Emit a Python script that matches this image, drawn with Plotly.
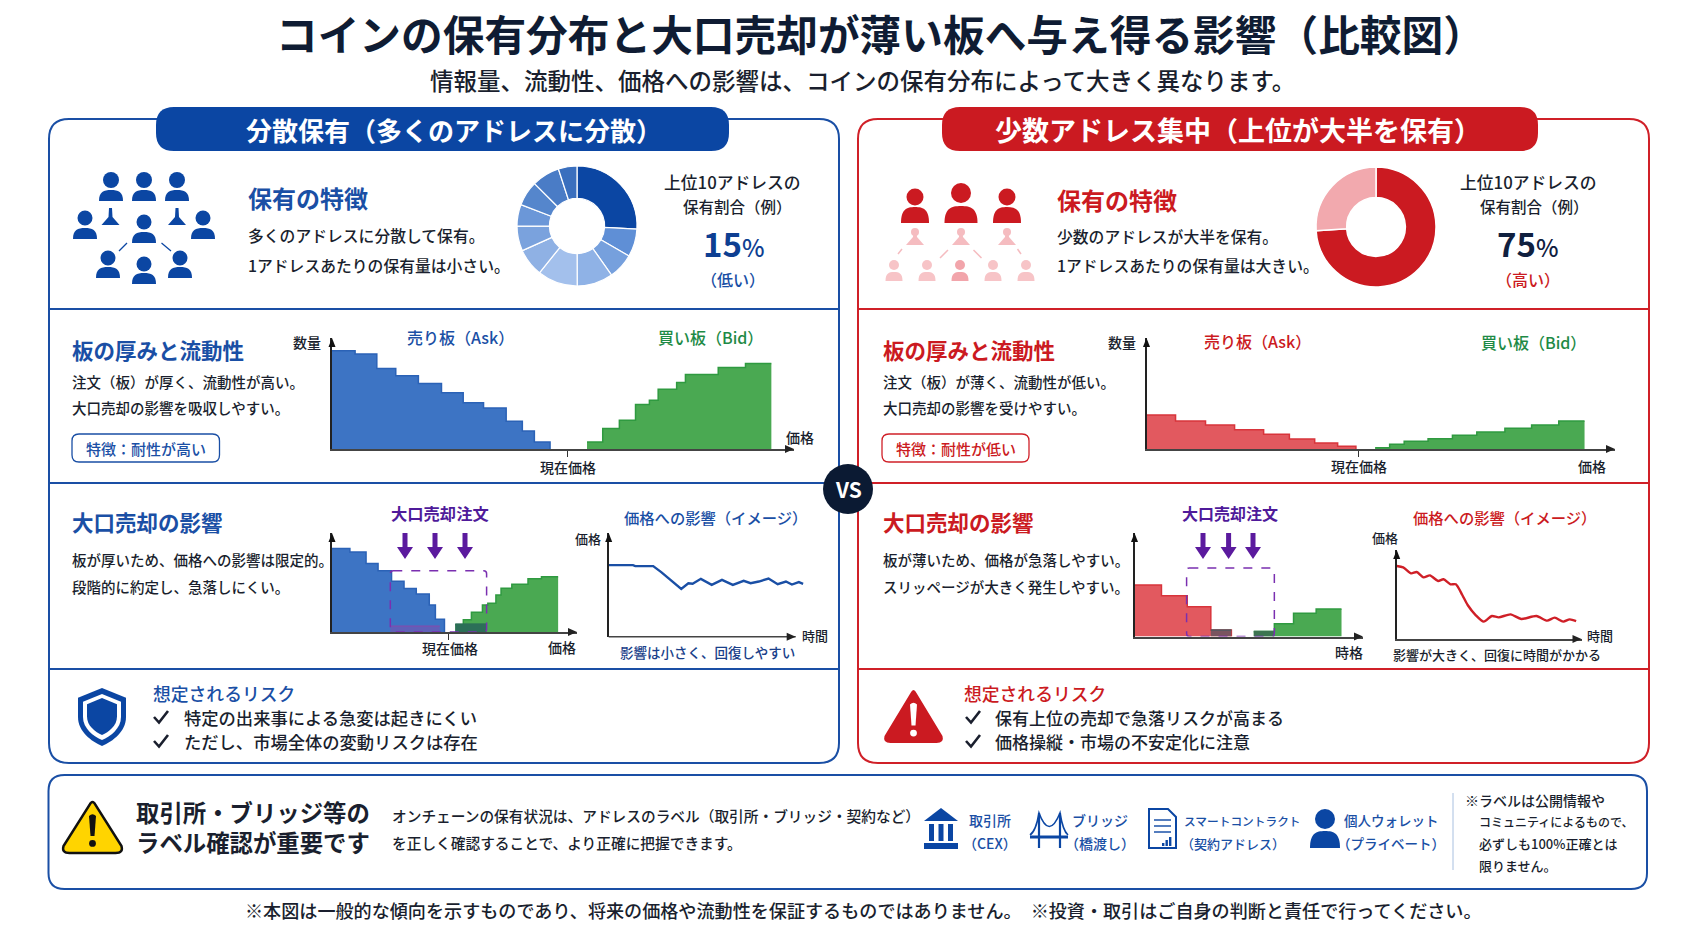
import plotly.graph_objects as go

W = 1692
H = 929
FONT = "Noto Sans CJK JP"
BLUE = "#0b46a3"
BLUE_TXT = "#1a4fa5"
RED = "#cb1a21"
GREEN_TXT = "#1e8a45"
PURPLE = "#4f1a9a"
DARK = "#1a1f2e"

# donuts
spread_shares = [25.8, 7.5, 6.9, 9.7, 10.8, 7.5, 6.7, 5.8, 6.7, 7.5, 5.0]
spread_colors = ["#0b46a3", "#5f8fd6", "#76a0dd", "#8fb2e6", "#a3c0ec", "#8fb1e4",
                 "#7aa2dd", "#6b97d8", "#5586cc", "#4a7cc6", "#3a6fbe"]
conc_shares = [74, 26]
conc_colors = ["#cb1a21", "#f2a9ae"]

# order book, left card
thick_ask_x = [0, 5, 9.7, 13.8, 18.7, 23.7, 28.4, 32.8, 37.7, 41.2, 43.8, 47.2]
thick_ask_y = [88.6, 85.5, 72.6, 66, 59, 50.6, 41.6, 37, 25, 16.3, 6.3, 0]
thick_bid_x = [55.2, 58.6, 62.2, 65.7, 68.7, 70.6, 74.6, 76.5, 83.6, 89.5, 95.1]
thick_bid_y = [6.3, 18.4, 25.9, 40, 43.9, 53.9, 59.9, 67.1, 73.5, 77.1, 77.1]

# order book, right card
thin_ask_x = [0, 6.2, 12.6, 18.8, 25, 30.5, 35.9, 40.8, 44.7]
thin_ask_y = [30.6, 25.2, 21.6, 17.4, 13.2, 9, 5.4, 2.4, 0]
thin_bid_x = [48.8, 51.9, 55, 60.1, 65.3, 70.5, 76.5, 82.2, 88, 93.5]
thin_bid_y = [1.2, 4.2, 6.9, 9.3, 12.3, 15.3, 18.6, 21.6, 25.2, 25.2]

# large sell, left card
sell_l_ask_x = [0, 7.3, 13.9, 18.8, 24.3, 29.4, 34.4, 39.7, 42.2, 45.9]
sell_l_ask_y = [84.3, 80.9, 69.2, 61.9, 51.2, 44, 38.3, 27.3, 13, 0]
sell_l_bid_x = [50.3, 53.6, 56.9, 61.4, 63.6, 66.9, 69, 73.4, 80, 85.5, 92.3]
sell_l_bid_y = [7.4, 12.4, 20, 27.3, 29, 37.5, 44.1, 48.2, 53.8, 55.9, 55.9]
sell_l_over_x = [50.3, 63.1]
sell_l_over_y = [8, 8]
sell_l_hatch_x = [23.8, 44]
sell_l_hatch_y = [6, 6]
sell_l_box = [23.8, 63.1, 61.9]

# large sell, right card
sell_r_ask_x = [0, 11.8, 23.1, 33.4, 42.4]
sell_r_ask_y = [49.7, 39.4, 28.8, 6.4, 0]
sell_r_bid_x = [52.2, 61.2, 69.6, 79.5, 90.6]
sell_r_bid_y = [4.8, 12.2, 22.4, 26.6, 26.6]
sell_r_over_x = [33.4, 42.4]
sell_r_over_y = [6.4, 6.4]
sell_r_over2_x = [52.2, 61.2]
sell_r_over2_y = [4.8, 4.8]
sell_r_box = [22.8, 61.2, 66.3]

# price impact lines
price_l_t = [0, 13, 14.2, 23.8, 28.1, 33.9, 38.8, 42.6, 44.9, 49.3, 55.1, 60.6, 66.4,
             72.2, 75.9, 80.3, 85.5, 90.4, 94.8, 98.0, 101.7, 104]
price_l_p = [69, 69, 68.1, 68.1, 62.3, 53.2, 46.1, 51.6, 51, 55.8, 50, 54.8, 50,
             53.9, 51.6, 53.2, 56.1, 50.6, 53.2, 50.3, 52.6, 51]
price_r_t = [0, 3.5, 7.8, 10.8, 14.5, 18, 22.4, 25.3, 29.1, 32, 35.5, 38.4, 42.7, 47.1,
             51.5, 55.2, 61.6, 67.4, 75.6, 81.4, 85.5, 90.1, 93.6, 97.1]
price_r_p = [82, 80.5, 73.8, 75.3, 69.3, 71.5, 65.2, 67.1, 61.5, 61.5, 49.4, 38.2, 26.9, 19.5,
             25.8, 24.3, 27.7, 22.5, 25.8, 20.6, 24, 19.5, 22.1, 20.2]

shapes = []
notes = []


def text(x, y, s, size=15, color=DARK, anchor="left", bold=False):
    notes.append(dict(x=x, y=y, xref="x", yref="y", text=s, showarrow=False, xanchor=anchor, yanchor="middle",
                      align=anchor if anchor != "right" else "right",
                      font=dict(family=FONT, size=size, color=color, weight=700 if bold else 500)))


def path(d, fill="rgba(0,0,0,0)", line=None, width=1, dash=None, xref="x", yref="y"):
    shapes.append(dict(type="path", path=d, xref=xref, yref=yref, fillcolor=fill,
                       line=dict(color=line if line else "rgba(0,0,0,0)", width=width if line else 0, dash=dash)))


def rrect(x0, y0, x1, y1, r, fill="rgba(0,0,0,0)", line=None, width=1, dash=None, xref="x", yref="y", ry=None):
    ry = r if ry is None else ry
    # y0 is the edge drawn first, works for either axis direction
    sy = 1 if y1 > y0 else -1
    d = (f"M {x0 + r} {y0} L {x1 - r} {y0} Q {x1} {y0} {x1} {y0 + sy * ry} L {x1} {y1 - sy * ry} "
         f"Q {x1} {y1} {x1 - r} {y1} L {x0 + r} {y1} Q {x0} {y1} {x0} {y1 - sy * ry} L {x0} {y0 + sy * ry} "
         f"Q {x0} {y0} {x0 + r} {y0} Z")
    path(d, fill, line, width, dash, xref, yref)


def hline(x0, x1, y, color, width=2):
    shapes.append(dict(type="line", x0=x0, x1=x1, y0=y, y1=y, xref="x", yref="y", line=dict(color=color, width=width)))


def seg(x0, y0, x1, y1, color, width=1.5):
    shapes.append(dict(type="line", x0=x0, x1=x1, y0=y0, y1=y1, xref="x", yref="y", line=dict(color=color, width=width)))


def bar(x0, x1, y0, y1, color):
    shapes.append(dict(type="rect", x0=x0, x1=x1, y0=y0, y1=y1, xref="x", yref="y", fillcolor=color, line=dict(width=0)))


def circle(cx, cy, r, color, ry=None):
    ry = r if ry is None else ry
    shapes.append(dict(type="circle", x0=cx - r, x1=cx + r, y0=cy - ry, y1=cy + ry, xref="x", yref="y",
                       fillcolor=color, line=dict(width=0)))


def person(cx, head_y, head_r, top, base, w, color):
    circle(cx, head_y, head_r, color)
    k = (base - top) * 0.15
    path(f"M {cx - w} {base} C {cx - w} {top + k} {cx - w * 0.6} {top} {cx} {top} "
         f"C {cx + w * 0.6} {top} {cx + w} {top + k} {cx + w} {base} Z", color)


def small_tri(cx, top, base, w, color):
    path(f"M {cx - 1.5} {top} L {cx + 1.5} {top} L {cx + 2} {base - 8} L {cx + w} {base} L {cx - w} {base} "
         f"L {cx - 2} {base - 8} Z", color)


def shield(cx, top, hw, h, color):
    path(f"M {cx} {top} L {cx + hw} {top + h * 0.17} L {cx + hw} {top + h * 0.5} "
         f"C {cx + hw} {top + h * 0.75} {cx + hw * 0.45} {top + h * 0.92} {cx} {top + h} "
         f"C {cx - hw * 0.45} {top + h * 0.92} {cx - hw} {top + h * 0.75} {cx - hw} {top + h * 0.5} "
         f"L {cx - hw} {top + h * 0.17} Z", color)


def warn(cx, top, bot, hw, fill, mark, line=None, width=0):
    path(f"M {cx - 3} {top + 5} Q {cx} {top - 1} {cx + 3} {top + 5} L {cx + hw - 1} {bot - 7} "
         f"Q {cx + hw + 1} {bot} {cx + hw - 7} {bot} L {cx - hw + 7} {bot} "
         f"Q {cx - hw - 1} {bot} {cx - hw + 1} {bot - 7} Z", fill, line, width)
    h = bot - top
    path(f"M {cx - 3.5} {top + h * 0.3} Q {cx} {top + h * 0.24} {cx + 3.5} {top + h * 0.3} "
         f"L {cx + 2} {top + h * 0.68} L {cx - 2} {top + h * 0.68} Z", mark)
    circle(cx, top + h * 0.82, 3.4, mark)


def check(x, y, color=DARK):
    path(f"M {x - 7} {y} L {x - 2} {y + 5.5} L {x + 7} {y - 6}", line=color, width=2.6)


def down_arrow(x, y0, y1, color="#5b1a9e"):
    path(f"M {x - 2.5} {y0} L {x + 2.5} {y0} L {x + 2.5} {y1 - 12} L {x + 8} {y1 - 12} L {x} {y1} "
         f"L {x - 8} {y1 - 12} L {x - 2.5} {y1 - 12} Z", color)


def tip_right(x, y, color="#222"):
    path(f"M {x} {y} L {x - 9} {y - 4} L {x - 9} {y + 4} Z", color)


def tip_up(x, y, color="#111"):
    path(f"M {x} {y} L {x - 3.5} {y + 9} L {x + 3.5} {y + 9} Z", color)


# cards, no fill so the charts stay visible under the shapes
for x0, x1, c in [(49, 839, BLUE_TXT), (858, 1649, "#d02028")]:
    rrect(x0, 119, x1, 763, 20, line=c, width=2)
    for y in [309, 483, 669]:
        hline(x0, x1, y, c, 2)
rrect(156, 107, 729, 151, 18, BLUE)
rrect(942, 107, 1538, 151, 18, RED)
rrect(48.5, 775, 1647, 889, 16, line=BLUE_TXT, width=2)

text(880, 33, "コインの保有分布と大口売却が薄い板へ与え得る影響（比較図）", 41.7, "#0f1c33", "center", True)
text(862, 80, "情報量、流動性、価格への影響は、コインの保有分布によって大きく異なります。", 23.5, DARK, "center")
text(454, 129, "分散保有（多くのアドレスに分散）", 26, "white", "center", True)
text(1238, 129, "少数アドレス集中（上位が大半を保有）", 27, "white", "center", True)

# left people icon
for cx in [111, 144, 177]:
    person(cx, 180, 8, 190, 201, 12, BLUE)
person(85, 218, 7.5, 228, 239, 12, BLUE)
person(144, 222, 7.5, 232, 243, 12, BLUE)
person(203, 218, 7.5, 228, 239, 12, BLUE)
person(108, 258, 7.5, 267, 278, 12, BLUE)
person(144, 264, 7.5, 273, 284, 12, BLUE)
person(180, 258, 7.5, 267, 278, 12, BLUE)
small_tri(110.5, 208, 225, 9, BLUE)
small_tri(177, 208, 225, 9, BLUE)
seg(127, 243, 119, 251, BLUE, 1.2)
seg(161.5, 243, 171, 251, BLUE, 1.2)

# right people icon
person(915, 197, 8.5, 207, 223, 14, RED)
person(961, 193, 10, 206, 223, 16.5, RED)
person(1007, 197, 8.5, 207, 223, 14, RED)
for cx in [915, 961, 1007]:
    circle(cx, 232, 4, "#f5bcc0")
    small_tri(cx, 232, 245, 9, "#f5bcc0")
for cx in [894, 927, 960, 993, 1026]:
    person(cx, 265, 5, 272, 281, 8.5, "#f2a5ab" if cx == 960 else "#f7c4c7")
seg(948, 250, 940, 258, "#f5bcc0")
seg(973.5, 250, 981.5, 258, "#f5bcc0")
seg(1017.5, 249, 1021, 254, "#f5bcc0")
seg(902, 249, 898, 254, "#f5bcc0")

# section 1 text
text(246, 197, "保有の特徴", 24, BLUE_TXT, bold=True)
text(246, 235, "多くのアドレスに分散して保有。", 15.8)
text(246, 265, "1アドレスあたりの保有量は小さい。", 15.8)
text(732, 182, "上位10アドレスの", 16.8, DARK, "center")
text(737, 206, "保有割合（例）", 15.5, DARK, "center")
text(734, 243, "<b>15</b><span style='font-size:24px'>%</span>", 33, "#0e3f92", "center")
text(733, 279, "（低い）", 16, BLUE_TXT, "center")

text(1055, 199, "保有の特徴", 24, RED, bold=True)
text(1055, 236, "少数のアドレスが大半を保有。", 15.8)
text(1055, 265, "1アドレスあたりの保有量は大きい。", 15.8)
text(1528, 182, "上位10アドレスの", 16.8, DARK, "center")
text(1534, 206, "保有割合（例）", 15.5, DARK, "center")
text(1528, 243, "<b>75</b><span style='font-size:24px'>%</span>", 33, "#10203f", "center")
text(1528, 279, "（高い）", 16, RED, "center")

# section 2 text
text(70, 349, "板の厚みと流動性", 21.5, BLUE_TXT, bold=True)
text(70, 381, "注文（板）が厚く、流動性が高い。", 14.5)
text(70, 407, "大口売却の影響を吸収しやすい。", 14.5)
rrect(72, 434, 219.5, 462, 7, "white", BLUE_TXT, 1.3)
text(145.5, 448, "特徴：耐性が高い", 15, BLUE_TXT, "center")
text(323, 342, "数量", 14, DARK, "right")
text(460, 337, "売り板（Ask）", 16, BLUE_TXT, "center")
text(710, 337, "買い板（Bid）", 16, GREEN_TXT, "center")
text(799.5, 437, "価格", 14, DARK, "center")
text(567.5, 467, "現在価格", 14, DARK, "center")

text(881, 349, "板の厚みと流動性", 21.5, RED, bold=True)
text(881, 381, "注文（板）が薄く、流動性が低い。", 14.5)
text(881, 407, "大口売却の影響を受けやすい。", 14.5)
rrect(882, 434, 1029, 462, 7, "white", "#d02028", 1.3)
text(955.5, 448, "特徴：耐性が低い", 15, RED, "center")
text(1138, 342, "数量", 14, DARK, "right")
text(1257, 341, "売り板（Ask）", 16, RED, "center")
text(1533, 342, "買い板（Bid）", 16, GREEN_TXT, "center")
text(1359, 466, "現在価格", 14, DARK, "center")
text(1592, 466, "価格", 14, DARK, "center")

# section 3 text
text(70, 521, "大口売却の影響", 21.5, BLUE_TXT, bold=True)
text(70, 559, "板が厚いため、価格への影響は限定的。", 14.5)
text(70, 586, "段階的に約定し、急落しにくい。", 14.5)
text(440, 513, "大口売却注文", 16.3, PURPLE, "center", True)
text(450, 648, "現在価格", 14, DARK, "center")
text(561.5, 647, "価格", 14, DARK, "center")
text(715, 517, "価格への影響（イメージ）", 15.3, BLUE_TXT, "center")
text(603, 538, "価格", 13, DARK, "right")
text(815, 635, "時間", 13, DARK, "center")
text(707, 652, "影響は小さく、回復しやすい", 13.5, "#1a3f8a", "center")

text(881, 521, "大口売却の影響", 21.5, RED, bold=True)
text(881, 559, "板が薄いため、価格が急落しやすい。", 14.5)
text(881, 586, "スリッページが大きく発生しやすい。", 14.5)
text(1230, 513, "大口売却注文", 16, PURPLE, "center", True)
text(1349, 652, "時格", 14, DARK, "center")
text(1504, 517, "価格への影響（イメージ）", 15.3, RED, "center")
text(1385, 537, "価格", 13, DARK, "center")
text(1600, 635, "時間", 13, DARK, "center")
text(1497, 654, "影響が大きく、回復に時間がかかる", 13, DARK, "center")

for x in [405, 435, 465]:
    down_arrow(x, 533, 559)
for x in [1203, 1228.6, 1253]:
    down_arrow(x, 533, 559)

# section 4
shield(102, 688, 24, 58, BLUE)
shield(102, 694, 19, 46, "white")
shield(102, 698, 15, 37, BLUE)
text(151, 693, "想定されるリスク", 17.8, BLUE_TXT)
check(161, 717)
text(182, 717, "特定の出来事による急変は起きにくい", 17.3)
check(161, 741)
text(182, 741, "ただし、市場全体の変動リスクは存在", 17.3)

warn(913.5, 688, 743, 30, RED, "white")
text(962, 693, "想定されるリスク", 17.8, RED)
check(973, 717)
text(993, 717, "保有上位の売却で急落リスクが高まる", 17)
check(973, 741)
text(993, 741, "価格操縦・市場の不安定化に注意", 17)

# VS badge
circle(848, 489, 25, "#0b1a33")
text(848, 489, "VS", 21, "white", "center", True)

# bottom panel
warn(92.5, 800, 853, 30, "#ffd400", "#111", "#111", 2.5)
text(134, 827, "取引所・ブリッジ等の<br>ラベル確認が重要です", 23.4, DARK, bold=True)
text(390, 815, "オンチェーンの保有状況は、アドレスのラベル（取引所・ブリッジ・契約など）", 14.7)
text(390, 842, "を正しく確認することで、より正確に把握できます。", 14.7)

# bank
path("M 941 808 L 958 821 L 924 821 Z", BLUE)
bar(924, 958, 843, 849, BLUE)
for x in [929, 938.5, 948]:
    bar(x, x + 5, 824, 841, BLUE)
text(990, 820, "取引所", 14, BLUE_TXT, "center")
text(990, 843, "（CEX）", 14, BLUE_TXT, "center")

# bridge
for x in [1039, 1060]:
    seg(x, 813, x, 848, BLUE, 2.2)
hline(1030, 1068, 837, BLUE, 3)
path("M 1030 835 Q 1036 831 1039 813 Q 1049 840 1060 813 Q 1063 831 1068 835", line=BLUE, width=1.6)
text(1100, 820, "ブリッジ", 14, BLUE_TXT, "center")
text(1100, 843, "（橋渡し）", 14, BLUE_TXT, "center")

# contract
path("M 1149 809 L 1168 809 L 1176 817 L 1176 848 L 1149 848 Z", "white", BLUE, 2)
for y in [820, 826, 832]:
    hline(1154, 1171, y, BLUE, 1.4)
for x, top in [(1162, 843), (1165.5, 840), (1169, 837)]:
    bar(x, x + 2.4, top, 846, BLUE)
text(1242, 820, "スマートコントラクト", 11.7, BLUE_TXT, "center")
text(1233, 843, "（契約アドレス）", 13, BLUE_TXT, "center")

# wallet person
person(1325, 819, 10, 831, 848, 15, BLUE)
text(1391, 820, "個人ウォレット", 13.5, BLUE_TXT, "center")
text(1391, 843, "（プライベート）", 13.5, BLUE_TXT, "center")

seg(1453, 793, 1453, 870, "#a8c0e0", 1)
text(1463, 800, "※ラベルは公開情報や", 14)
text(1477, 821, "コミュニティによるもので、", 12)
text(1477, 843, "必ずしも100%正確とは", 13)
text(1477, 865, "限りません。", 13)

text(863, 910, "※本図は一般的な傾向を示すものであり、将来の価格や流動性を保証するものではありません。　※投資・取引はご自身の判断と責任で行ってください。", 18.1, DARK, "center")

fig = go.Figure()
# page layer in window pixels, for panels, icons and text
fig.add_trace(go.Scatter(x=[0, W], y=[0, H], mode="none", hoverinfo="skip", showlegend=False))
layout_axes = dict(
    xaxis=dict(range=[0, W], domain=[0, 1], visible=False, fixedrange=True),
    yaxis=dict(range=[H, 0], domain=[0, 1], visible=False, fixedrange=True),
)


def add_axes(n, left, right, base, top, ticks=None, xmax=100, axis_end=None):
    # axis_end: the arrow stops short of the plot area when the line runs past it
    xa = dict(domain=[left / W, right / W], range=[0, xmax], showgrid=False, zeroline=False, showline=axis_end is None,
              linecolor="#444", linewidth=1.6, anchor=f"y{n}", fixedrange=True, showticklabels=False,
              tickvals=ticks if ticks else [], ticks="outside" if ticks else "", ticklen=6, tickcolor="#333")
    ya = dict(domain=[1 - base / H, 1 - top / H], range=[0, 100], showgrid=False, zeroline=False, showline=True,
              linecolor="#222", linewidth=1.6, anchor=f"x{n}", fixedrange=True, showticklabels=False, ticks="")
    layout_axes[f"xaxis{n}"] = xa
    layout_axes[f"yaxis{n}"] = ya
    if axis_end:
        seg(left, base, axis_end, base, "#444", 1.6)
    tip_right(axis_end if axis_end else right, base)
    tip_up(left, top)


def book(n, x, y, fill, line):
    fig.add_trace(go.Scatter(x=x, y=y, mode="lines", line=dict(shape="hv", color=line, width=1.5), fill="tozeroy",
                             fillcolor=fill, xaxis=f"x{n}", yaxis=f"y{n}", showlegend=False, hoverinfo="skip"))


def box(n, b):
    rrect(b[0], b[2], b[1], 0, 1.2, "rgba(0,0,0,0)", "#7a2fb0", 1.5, "dash", f"x{n}", f"y{n}", ry=3)


ASK_BLUE, ASK_BLUE_L = "#3d74c4", "#2b62b6"
ASK_RED, ASK_RED_L = "#e2595f", "#d8343b"
BID_GREEN, BID_GREEN_L = "#4aa952", "#2f9a40"

add_axes(2, 332, 794, 449, 338, [51])
book(2, thick_ask_x, thick_ask_y, ASK_BLUE, ASK_BLUE_L)
book(2, thick_bid_x, thick_bid_y, BID_GREEN, BID_GREEN_L)

add_axes(3, 1146.5, 1615, 449, 338, [45.2])
book(3, thin_ask_x, thin_ask_y, ASK_RED, ASK_RED_L)
book(3, thin_bid_x, thin_bid_y, BID_GREEN, BID_GREEN_L)

add_axes(4, 332, 577, 632, 533, [47.7])
book(4, sell_l_ask_x, sell_l_ask_y, ASK_BLUE, ASK_BLUE_L)
book(4, sell_l_bid_x, sell_l_bid_y, BID_GREEN, BID_GREEN_L)
book(4, sell_l_over_x, sell_l_over_y, "#2c6f58", "#2c6f58")
book(4, sell_l_hatch_x, sell_l_hatch_y, "rgba(140,70,170,0.45)", "rgba(140,70,170,0.6)")
box(4, sell_l_box)

add_axes(5, 1134.5, 1363, 636.5, 533, None)
book(5, sell_r_ask_x, sell_r_ask_y, ASK_RED, ASK_RED_L)
book(5, sell_r_bid_x, sell_r_bid_y, BID_GREEN, BID_GREEN_L)
book(5, sell_r_over_x, sell_r_over_y, "#7a5560", "#4f5a60")
book(5, sell_r_over2_x, sell_r_over2_y, "#3c7550", "#3c7550")
box(5, sell_r_box)

add_axes(6, 608.7, 805, 636.7, 533, None, xmax=105, axis_end=795.7)
fig.add_trace(go.Scatter(x=price_l_t, y=price_l_p, mode="lines", line=dict(color="#1a4fa5", width=2.4),
                         xaxis="x6", yaxis="y6", showlegend=False, hoverinfo="skip"))

add_axes(7, 1396.7, 1581.5, 639, 550, None)
fig.add_trace(go.Scatter(x=price_r_t, y=price_r_p, mode="lines", line=dict(color="#cf1f27", width=2.4, shape="spline", smoothing=0.7),
                         xaxis="x7", yaxis="y7", showlegend=False, hoverinfo="skip"))

fig.add_trace(go.Pie(values=spread_shares, marker=dict(colors=spread_colors, line=dict(color="white", width=1.2)), hole=0.46,
                     sort=False, direction="clockwise", rotation=0, textinfo="none", hoverinfo="skip", showlegend=False,
                     domain=dict(x=[517 / W, 637 / W], y=[1 - 286 / H, 1 - 166 / H])))
fig.add_trace(go.Pie(values=conc_shares, marker=dict(colors=conc_colors, line=dict(color="white", width=1.5)), hole=0.49,
                     sort=False, direction="clockwise", rotation=0, textinfo="none", hoverinfo="skip", showlegend=False,
                     domain=dict(x=[1316 / W, 1436 / W], y=[1 - 287 / H, 1 - 167 / H])))

fig.update_layout(
    width=W, height=H, margin=dict(l=0, r=0, t=0, b=0),
    paper_bgcolor="white", plot_bgcolor="rgba(0,0,0,0)",
    shapes=shapes, annotations=notes, showlegend=False,
    font=dict(family=FONT),
    **layout_axes,
)
fig.write_html("out.html", config=dict(displayModeBar=False),
               post_script="document.body.style.margin='0';document.body.style.overflow='hidden';")
